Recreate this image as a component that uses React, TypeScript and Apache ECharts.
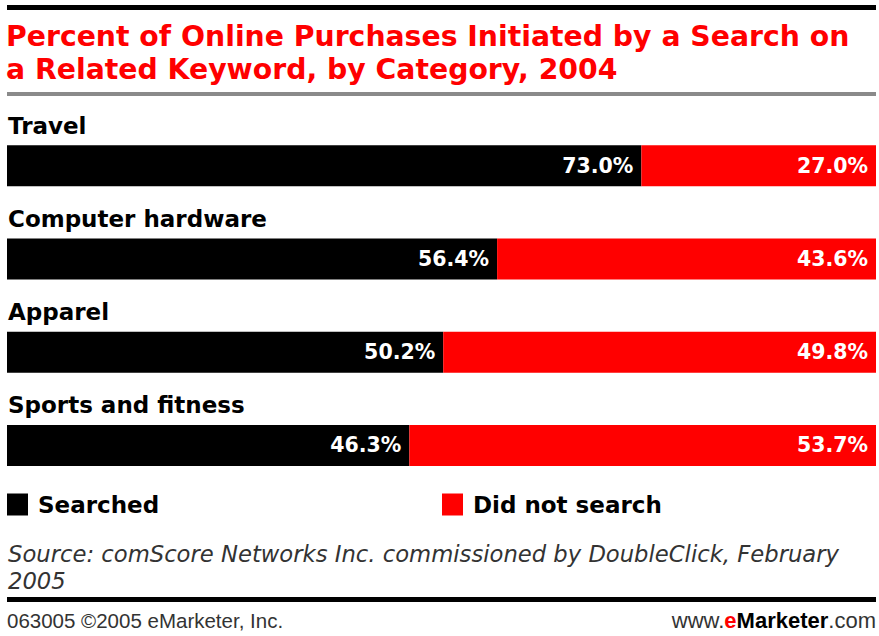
import React, { useEffect, useRef } from "react";
import * as echarts from "echarts";

const categories = ["Travel", "Computer hardware", "Apparel", "Sports and fitness"];
const searched = [73.0, 56.4, 50.2, 46.3];
const didNotSearch = [27.0, 43.6, 49.8, 53.7];
const seriesNames = ["Searched", "Did not search"];
const titleText = "Percent of Online Purchases Initiated by a Search on\na Related Keyword, by Category, 2004";
const sourceText = "Source: comScore Networks Inc. commissioned by DoubleClick, February\n2005";
const footerLeft = "063005 \u00a92005 eMarketer, Inc.";

const BOLD = "'DejaVu Sans', Verdana, sans-serif";
const RED = "#ff0000";

export default function App() {
  const ref = useRef<HTMLDivElement>(null);
  useEffect(() => {
    if (!ref.current) return;
    const chart = echarts.init(ref.current, null, { renderer: "svg" });
    const valueLabel = {
      show: true,
      position: "insideRight",
      distance: 8,
      color: "#fff",
      fontFamily: BOLD,
      fontWeight: "bold",
      fontSize: 20.5,
      formatter: (p: any) => Number(p.value).toFixed(1) + "%",
    };
    const legendCommon = {
      top: 493,
      padding: 0,
      itemWidth: 21,
      itemHeight: 22,
      icon: "rect",
      selectedMode: false,
      textStyle: {
        fontFamily: BOLD,
        fontWeight: "bold",
        fontSize: 23,
        color: "#000",
        lineHeight: 22,
        padding: [0, 0, 0, 5],
      },
    };
    chart.setOption({
      animation: false,
      backgroundColor: "#fff",
      title: {
        text: titleText,
        left: 6,
        top: 20,
        padding: 0,
        textStyle: {
          color: RED,
          fontFamily: BOLD,
          fontWeight: "bold",
          fontSize: 28.3,
          lineHeight: 33,
        },
      },
      legend: [
        { ...legendCommon, left: 7, data: [seriesNames[0]] },
        { ...legendCommon, left: 442, data: [seriesNames[1]] },
      ],
      grid: { left: 7, right: 3, top: 119, height: 373, containLabel: false },
      xAxis: { type: "value", min: 0, max: 100, show: false },
      yAxis: {
        type: "category",
        data: categories,
        inverse: true,
        axisLine: { show: false },
        axisTick: { show: false },
        splitLine: { show: false },
        axisLabel: {
          inside: true,
          margin: 1,
          align: "left",
          verticalAlign: "bottom",
          lineHeight: 24,
          padding: [0, 0, 28, 0],
          color: "#000",
          fontFamily: BOLD,
          fontWeight: "bold",
          fontSize: 23,
        },
      },
      series: [
        {
          name: seriesNames[0],
          type: "bar",
          stack: "total",
          data: searched,
          barWidth: 41,
          itemStyle: { color: "#000" },
          label: valueLabel,
        },
        {
          name: seriesNames[1],
          type: "bar",
          stack: "total",
          data: didNotSearch,
          barWidth: 41,
          itemStyle: { color: RED },
          label: valueLabel,
        },
      ],
      graphic: [
        { type: "rect", shape: { x: 7, y: 5, width: 869, height: 5 }, style: { fill: "#000" } },
        { type: "rect", shape: { x: 7, y: 92, width: 869, height: 4 }, style: { fill: "#8a8a8a" } },
        { type: "rect", shape: { x: 7, y: 597, width: 869, height: 5 }, style: { fill: "#000" } },
        {
          type: "text",
          x: 8,
          y: 540,
          style: {
            text: sourceText,
            fontFamily: "'DejaVu Sans', sans-serif",
            fontStyle: "italic",
            fontSize: 22.7,
            lineHeight: 27,
            fill: "#333",
            verticalAlign: "top",
          },
        },
        {
          type: "text",
          x: 7,
          y: 620,
          style: {
            text: footerLeft,
            fontFamily: "'Liberation Sans', Arial, sans-serif",
            fontSize: 20.5,
            fill: "#333",
            verticalAlign: "middle",
          },
        },
        {
          type: "text",
          x: 876,
          y: 620,
          style: {
            text: "{a|www.}{e|e}{b|Marketer}{a|.com}",
            align: "right",
            verticalAlign: "middle",
            rich: {
              a: { fontFamily: "'Liberation Sans', Arial, sans-serif", fontSize: 22, fill: "#333" },
              e: { fontFamily: "'Liberation Sans', Arial, sans-serif", fontSize: 22, fontWeight: "bold", fill: RED },
              b: { fontFamily: "'Liberation Sans', Arial, sans-serif", fontSize: 22, fontWeight: "bold", fill: "#000" },
            },
          },
        },
      ],
    });
    return () => chart.dispose();
  }, []);
  return (
    <div
      ref={ref}
      style={{ position: "absolute", left: 0, top: 0, width: 879, height: 636 }}
    />
  );
}
